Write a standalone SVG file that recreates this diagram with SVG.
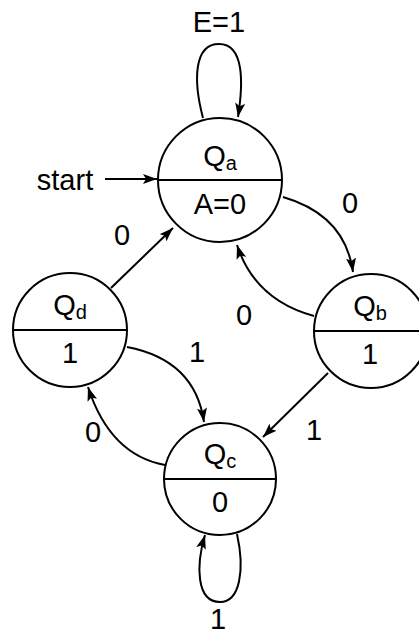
<svg xmlns="http://www.w3.org/2000/svg" width="419" height="634" viewBox="0 0 419 634">
<style>
.st{fill:#fff;stroke:#000;stroke-width:2}
.dv{stroke:#000;stroke-width:2}
.t{font-family:"Liberation Sans",Arial,sans-serif;font-size:29px;fill:#000;text-anchor:middle}
.s{font-size:20px}
.e{fill:none;stroke:#000;stroke-width:2;marker-end:url(#ah)}
</style>
<defs>
<marker id="ah" viewBox="0 0 14 10" refX="14" refY="5" markerWidth="14" markerHeight="10" markerUnits="userSpaceOnUse" orient="auto">
<path d="M0,0 L14,5 L0,10 L3,5 Z" fill="#000"/>
</marker>
</defs>
<g id="Qa">
<circle class="st" cx="220" cy="180" r="62"/>
<line class="dv" x1="158" y1="180" x2="282" y2="180"/>
<text class="t" x="220" y="166">Q<tspan class="s" dy="4">a</tspan></text>
<text class="t" x="220" y="214">A=0</text>
</g>
<g id="Qb">
<circle class="st" cx="371" cy="331" r="57"/>
<line class="dv" x1="314" y1="331" x2="428" y2="331"/>
<text class="t" x="370" y="316">Q<tspan class="s" dy="4">b</tspan></text>
<text class="t" x="370" y="364">1</text>
</g>
<g id="Qc">
<circle class="st" cx="220" cy="479" r="56"/>
<line class="dv" x1="164" y1="479" x2="276" y2="479"/>
<text class="t" x="220" y="464">Q<tspan class="s" dy="4">c</tspan></text>
<text class="t" x="220" y="512">0</text>
</g>
<g id="Qd">
<circle class="st" cx="70" cy="330" r="57"/>
<line class="dv" x1="13" y1="330" x2="127" y2="330"/>
<text class="t" x="70" y="315">Q<tspan class="s" dy="4">d</tspan></text>
<text class="t" x="70" y="363">1</text>
</g>
<g id="connectors">
<path class="e" d="M105,179 L157,179"/>
<path class="e" d="M203,118 C193,80 194,44 219,44 C245,44 243,85 238,117"/>
<path class="e" d="M283,197 Q345,215 353,272"/>
<path class="e" d="M314,316 Q255,300 237,245"/>
<path class="e" d="M111,288 L173,228"/>
<path class="e" d="M127,347 Q195,360 204,422"/>
<path class="e" d="M328,373 L263,437"/>
<path class="e" d="M165,465 Q110,455 88,387"/>
<path class="e" d="M237,534 C245,570 240,602 220,602 C196,602 196,565 205,535"/>
</g>
<g id="labels">
<text class="t" x="65" y="190">start</text>
<text class="t" x="219" y="32">E=1</text>
<text class="t" x="350" y="213">0</text>
<text class="t" x="244" y="325">0</text>
<text class="t" x="122" y="245">0</text>
<text class="t" x="197" y="362">1</text>
<text class="t" x="314" y="440">1</text>
<text class="t" x="93" y="442">0</text>
<text class="t" x="218" y="629">1</text>
</g>
</svg>
